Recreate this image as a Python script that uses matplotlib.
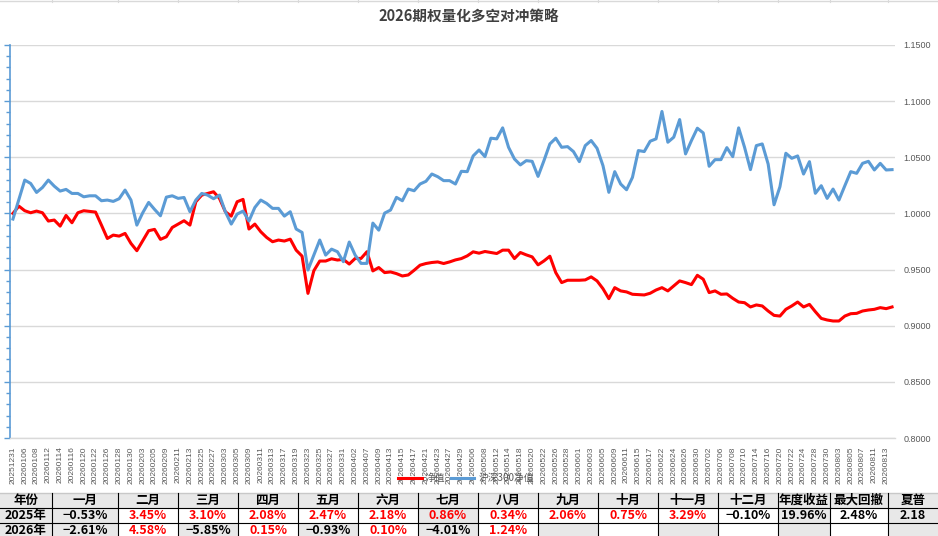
import matplotlib
matplotlib.use("Agg")
import matplotlib.pyplot as plt
from matplotlib.patches import Rectangle
from matplotlib.ticker import MultipleLocator
import numpy as np

plt.rcParams['font.family'] = ['Noto Sans CJK SC', 'DejaVu Sans']

# ---------------- data ----------------
title = "2026期权量化多空对冲策略"
series_names = ["净值", "沪深300净值"]

tick_labels = [
    "20251231", "20260106", "20260108", "20260112", "20260114", "20260116", "20260120",
    "20260122", "20260126", "20260128", "20260130", "20260203", "20260205", "20260209",
    "20260211", "20260213", "20260225", "20260227", "20260303", "20260305", "20260309",
    "20260311", "20260313", "20260317", "20260319", "20260323", "20260325", "20260327",
    "20260331", "20260402", "20260407", "20260409", "20260413", "20260415", "20260417",
    "20260421", "20260423", "20260427", "20260429", "20260506", "20260508", "20260512",
    "20260514", "20260518", "20260520", "20260522", "20260526", "20260528", "20260601",
    "20260603", "20260605", "20260609", "20260611", "20260615", "20260617", "20260622",
    "20260624", "20260626", "20260630", "20260702", "20260706", "20260708", "20260710",
    "20260714", "20260716", "20260720", "20260722", "20260724", "20260728", "20260730",
    "20260803", "20260805", "20260807", "20260811", "20260813",
]

nav = [
    1.0000, 1.0065, 1.0024, 1.0006, 1.0021, 1.0006, 0.9932, 0.9941, 0.9887, 0.9982,
    0.9917, 1.0006, 1.0024, 1.0018, 1.0012, 0.9896, 0.9777, 0.9807, 0.9798, 0.9822,
    0.9733, 0.9668, 0.9757, 0.9846, 0.9858, 0.9769, 0.9792, 0.9875, 0.9905, 0.9935,
    0.9896, 1.0104, 1.0163, 1.0178, 1.0193, 1.0134, 1.0015, 0.9976, 1.0104, 1.0125,
    0.9861, 0.9905, 0.9837, 0.9786, 0.9748, 0.9763, 0.9754, 0.9771, 0.9673, 0.9620,
    0.9288, 0.9490, 0.9576, 0.9576, 0.9596, 0.9585, 0.9591, 0.9549, 0.9599, 0.9599,
    0.9659, 0.9488, 0.9518, 0.9473, 0.9479, 0.9464, 0.9443, 0.9452, 0.9494, 0.9539,
    0.9554, 0.9563, 0.9568, 0.9554, 0.9568, 0.9586, 0.9598, 0.9622, 0.9658, 0.9646,
    0.9661, 0.9652, 0.9643, 0.9673, 0.9673, 0.9598, 0.9652, 0.9631, 0.9613, 0.9542,
    0.9577, 0.9619, 0.9473, 0.9384, 0.9405, 0.9405, 0.9405, 0.9408, 0.9435, 0.9399,
    0.9330, 0.9241, 0.9339, 0.9310, 0.9301, 0.9280, 0.9277, 0.9274, 0.9289, 0.9318,
    0.9339, 0.9310, 0.9354, 0.9399, 0.9384, 0.9366, 0.9449, 0.9414, 0.9295, 0.9310,
    0.9280, 0.9283, 0.9244, 0.9211, 0.9205, 0.9167, 0.9185, 0.9176, 0.9131, 0.9092,
    0.9086, 0.9146, 0.9176, 0.9211, 0.9167, 0.9190, 0.9125, 0.9065, 0.9051, 0.9042,
    0.9042, 0.9086, 0.9107, 0.9110, 0.9131, 0.9140, 0.9146, 0.9161, 0.9152, 0.9167,
]

hs300 = [
    0.9950, 1.0125, 1.0297, 1.0267, 1.0187, 1.0231, 1.0297, 1.0243, 1.0199, 1.0214,
    1.0178, 1.0178, 1.0148, 1.0157, 1.0157, 1.0113, 1.0119, 1.0107, 1.0131, 1.0208,
    1.0119, 0.9896, 1.0006, 1.0098, 1.0036, 0.9979, 1.0145, 1.0157, 1.0134, 1.0142,
    1.0015, 1.0119, 1.0178, 1.0163, 1.0131, 1.0163, 1.0015, 0.9905, 0.9994, 1.0021,
    0.9932, 1.0053, 1.0119, 1.0089, 1.0045, 1.0045, 0.9976, 1.0015, 0.9861, 0.9831,
    0.9496, 0.9629, 0.9763, 0.9629, 0.9682, 0.9659, 0.9570, 0.9745, 0.9629, 0.9555,
    0.9555, 0.9914, 0.9851, 1.0003, 1.0030, 1.0143, 1.0113, 1.0217, 1.0202, 1.0262,
    1.0286, 1.0351, 1.0327, 1.0292, 1.0292, 1.0262, 1.0375, 1.0372, 1.0512, 1.0565,
    1.0506, 1.0670, 1.0664, 1.0762, 1.0589, 1.0485, 1.0432, 1.0470, 1.0464, 1.0330,
    1.0470, 1.0619, 1.0670, 1.0589, 1.0595, 1.0551, 1.0461, 1.0604, 1.0649, 1.0580,
    1.0426, 1.0188, 1.0372, 1.0262, 1.0211, 1.0321, 1.0560, 1.0551, 1.0643, 1.0664,
    1.0908, 1.0634, 1.0679, 1.0836, 1.0530, 1.0649, 1.0759, 1.0717, 1.0420, 1.0479,
    1.0479, 1.0586, 1.0506, 1.0762, 1.0589, 1.0390, 1.0604, 1.0619, 1.0440, 1.0077,
    1.0238, 1.0536, 1.0491, 1.0512, 1.0351, 1.0461, 1.0179, 1.0247, 1.0134, 1.0217,
    1.0119, 1.0247, 1.0372, 1.0357, 1.0446, 1.0464, 1.0387, 1.0446, 1.0387, 1.0390,
]

table_header = ["年份", "一月", "二月", "三月", "四月", "五月", "六月", "七月", "八月",
                "九月", "十月", "十一月", "十二月", "年度收益", "最大回撤", "夏普"]
row_2025 = ["2025年", "−0.53%", "3.45%", "3.10%", "2.08%", "2.47%", "2.18%", "0.86%",
            "0.34%", "2.06%", "0.75%", "3.29%", "−0.10%", "19.96%", "2.48%", "2.18"]
row_2026 = ["2026年", "−2.61%", "4.58%", "−5.85%", "0.15%", "−0.93%", "0.10%", "−4.01%",
            "1.24%", "", "", "", "", "", "", ""]
shade_2025 = [0, 1, 7, 13, 15]
shade_2026 = [0, 1, 3, 5, 7, 9, 11, 13, 15]

# ---------------- figure ----------------
W, H = 938, 536
fig = plt.figure(figsize=(W / 100, H / 100), dpi=100)

RED = "#FF0000"
BLUE = "#5B9BD5"
GRID = "#D9D9D9"
TXT = "#595959"

ax = fig.add_axes([10 / W, 1 - 438 / H, 885 / W, 393 / H])
x = np.arange(len(nav))
ax.plot(x, nav, color=RED, lw=2.2, label=series_names[0], zorder=3, solid_joinstyle='round')
ax.plot(x, hs300, color=BLUE, lw=2.2, label=series_names[1], zorder=4, solid_joinstyle='round')
ax.set_xlim(-0.5, len(nav) - 0.5)
ax.set_ylim(0.80, 1.15)
ax.yaxis.set_major_locator(MultipleLocator(0.05))
ax.yaxis.set_minor_locator(MultipleLocator(0.01))
ax.grid(axis='y', which='major', color=GRID, lw=1.0, zorder=0)
ax.set_axisbelow(True)
for s in ['top', 'right']:
    ax.spines[s].set_visible(False)
ax.spines['bottom'].set_color(GRID)
ax.spines['bottom'].set_linewidth(1.0)
ax.spines['left'].set_color(BLUE)
ax.spines['left'].set_linewidth(1.2)
ax.tick_params(axis='y', which='major', left=True, length=4, width=1, color=BLUE,
               labelleft=False)
ax.tick_params(axis='y', which='minor', left=True, length=3, width=1, color=BLUE)

ax.set_xticks(np.arange(0, 2 * len(tick_labels), 2))
ax.set_xticklabels(tick_labels, rotation=90, fontsize=6, color=TXT,
                   family=['Liberation Sans', 'DejaVu Sans'])
ax.tick_params(axis='x', length=0, pad=6)

ax2 = ax.twinx()
ax2.set_ylim(0.80, 1.15)
ax2.yaxis.set_major_locator(MultipleLocator(0.05))
ax2.set_yticks(np.arange(0.80, 1.1501, 0.05))
ax2.set_yticklabels([f"{v:.4f}" for v in np.arange(0.80, 1.1501, 0.05)],
                    fontsize=6.5, color=TXT, family=['Liberation Sans', 'DejaVu Sans'])
ax2.tick_params(axis='y', length=0, pad=6)
for s in ax2.spines.values():
    s.set_visible(False)

fig.text(469 / W, 1 - 17 / H, title, ha='center', va='center', fontsize=10.5,
         fontweight='bold', color='#404040')

leg = fig.legend(loc='center', bbox_to_anchor=(466 / W, 1 - 478 / H), ncol=2,
                 frameon=False, fontsize=7, handlelength=2.4, handletextpad=0.4,
                 columnspacing=0.6, labelcolor=TXT)

# ---------------- table ----------------
tax = fig.add_axes([0, 0, 1, 1], zorder=-1)
tax.set_xlim(0, W)
tax.set_ylim(H, 0)
tax.axis('off')
tax.patch.set_alpha(0)

col_edges = [0, 52, 118, 178, 238, 298, 358, 418, 478, 538, 598, 658, 718, 778, 830, 888, 938]
row_edges = [493, 507.7, 522.5, 537.5]
SHADE = "#E8E8E8"

# faint border of the table above
tax.plot([0, W], [1, 1], color=GRID, lw=1)
for xe in col_edges[1:-1]:
    tax.plot([xe, xe], [0, 2], color=GRID, lw=0.8)

rows = [table_header, row_2025, row_2026]
shades = [list(range(16)), shade_2025, shade_2026]
for r, (cells, shade) in enumerate(zip(rows, shades)):
    y0, y1 = row_edges[r], row_edges[r + 1]
    for c, txt in enumerate(cells):
        x0, x1 = col_edges[c], col_edges[c + 1]
        fc = SHADE if c in shade else 'white'
        tax.add_patch(Rectangle((x0, y0), x1 - x0, y1 - y0, facecolor=fc, edgecolor='none'))
        if not txt:
            continue
        if r == 0 or c == 0 or c >= 13:
            color = 'black'
        else:
            color = 'black' if txt.startswith('−') else RED
        tax.text((x0 + x1) / 2, (y0 + y1) / 2 + 0.3, txt, ha='center', va='center',
                 fontsize=9, fontweight='bold', color=color)

tax.plot([0, W], [row_edges[0], row_edges[0]], color='#C8C8C8', lw=1)
for ye in row_edges[1:3]:
    tax.plot([0, W], [ye, ye], color='black', lw=0.8)
for xe in col_edges[1:-1]:
    tax.plot([xe, xe], [row_edges[0], H], color='black', lw=0.8)

fig.savefig("out.png", dpi=100)
